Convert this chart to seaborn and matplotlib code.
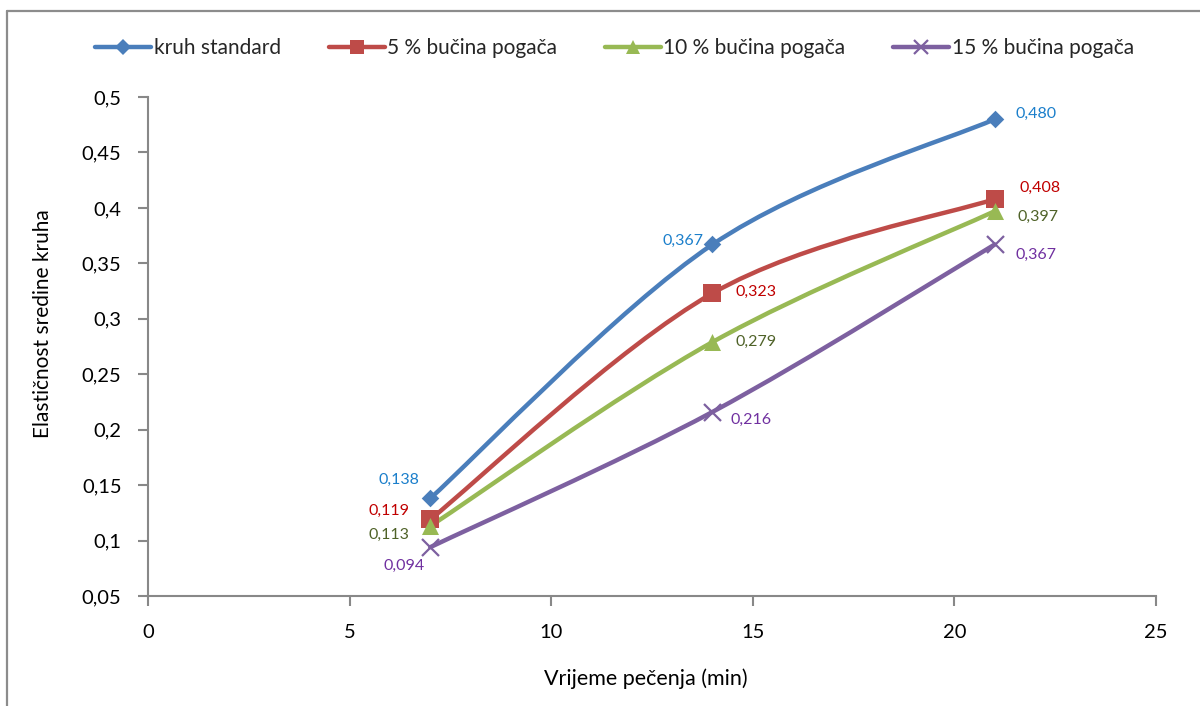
import numpy as np
import pandas as pd
import matplotlib
matplotlib.use('Agg')
import matplotlib.pyplot as plt
import seaborn as sns
from matplotlib.path import Path
from matplotlib.patches import PathPatch
from matplotlib.lines import Line2D
from matplotlib.ticker import FuncFormatter

# Data
time_min = [7, 14, 21]
kruh_standard = [0.138, 0.367, 0.480]
bucina_5 = [0.119, 0.323, 0.408]
bucina_10 = [0.113, 0.279, 0.397]
bucina_15 = [0.094, 0.216, 0.367]
series_names = ['kruh standard', '5 % bučina pogača', '10 % bučina pogača', '15 % bučina pogača']

series = [kruh_standard, bucina_5, bucina_10, bucina_15]
line_colors = ['#4A7EBB', '#BE4B48', '#98B954', '#7D60A0']
label_colors = ['#1B7FCB', '#C00000', '#4F6228', '#7030A0']
markers = ['D', 's', '^', 'x']
marker_sizes = [80, 150, 150, 150]

# label offsets in pixels (dx, dy) per series per point
label_offsets = [
    [(-31, 19), (-29, 4), (41, 5)],
    [(-41, 9), (44, 1), (45, 11)],
    [(-41, -9), (44, 0), (43, -6)],
    [(-26, -19), (39, -8), (41, -10)],
]

sns.set_theme(style='white')
plt.rcParams['font.family'] = ['Lato', 'DejaVu Sans']

df = pd.DataFrame({'time': time_min * 4,
                   'value': sum(series, []),
                   'serie': np.repeat(series_names, len(time_min))})

fig = plt.figure(figsize=(12, 7.06), dpi=100)
ax = fig.add_axes([148 / 1200, 1 - 596 / 706, (1156 - 148) / 1200, (596 - 97) / 706])


def smooth_path(xs, ys):
    # Excel-like smoothed line: cubic Bezier through the points
    pts = np.column_stack([xs, ys]).astype(float)
    n = len(pts)
    verts = [pts[0]]
    codes = [Path.MOVETO]
    for i in range(n - 1):
        p_prev = pts[i - 1] if i > 0 else pts[i]
        p_next2 = pts[i + 2] if i + 2 < n else pts[i + 1]
        c1 = pts[i] + (pts[i + 1] - p_prev) / 6
        c2 = pts[i + 1] - (p_next2 - pts[i]) / 6
        verts += [c1, c2, pts[i + 1]]
        codes += [Path.CURVE4] * 3
    return Path(verts, codes)


for name, color in zip(series_names, line_colors):
    sub = df[df['serie'] == name]
    ax.add_patch(PathPatch(smooth_path(sub['time'], sub['value']), facecolor='none',
                           edgecolor=color, lw=3.2, capstyle='round', zorder=2))

for name, color, mk, ms in zip(series_names, line_colors, markers, marker_sizes):
    sub = df[df['serie'] == name]
    if mk == 'x':
        sns.scatterplot(data=sub, x='time', y='value', marker='x', s=ms, color=color,
                        linewidth=1.6, ax=ax, zorder=3, legend=False)
    else:
        sns.scatterplot(data=sub, x='time', y='value', marker=mk, s=ms, color=color,
                        edgecolor=color, linewidth=0, ax=ax, zorder=3, legend=False)

for vals, lc, offs in zip(series, label_colors, label_offsets):
    for x, y, (dx, dy) in zip(time_min, vals, offs):
        ax.annotate(f'{y:.3f}'.replace('.', ','), (x, y), xytext=(dx, dy),
                    textcoords='offset pixels', ha='center', va='center',
                    fontsize=11.5, color=lc)

ax.set_xlim(0, 25)
ax.set_ylim(0.05, 0.5)
ax.set_xticks([0, 5, 10, 15, 20, 25])
ax.set_yticks(np.arange(0.05, 0.501, 0.05))
ax.yaxis.set_major_formatter(FuncFormatter(lambda v, p: f'{v:.2f}'.rstrip('0').replace('.', ',')))
for side in ['top', 'right']:
    ax.spines[side].set_visible(False)
for side in ['left', 'bottom']:
    ax.spines[side].set_color('#888888')
    ax.spines[side].set_linewidth(1.5)
ax.tick_params(axis='both', which='major', direction='out', length=7, width=1.5,
               color='#888888', labelsize=14.5, labelcolor='black', bottom=True, left=True)
ax.tick_params(axis='y', pad=12)
ax.tick_params(axis='x', pad=13)
ax.set_xlabel('Vrijeme pečenja (min)', fontsize=15.5, color='black')
ax.set_ylabel('Elastičnost sredine kruha', fontsize=15, color='black')
ax.xaxis.set_label_coords(0.494, -0.145)
ax.yaxis.set_label_coords(-0.094, 0.546)

handles = [Line2D([], [], color=c, lw=3.2, marker=m, markersize=10 if m != 'D' else 8,
                  markeredgewidth=1.6 if m == 'x' else 0)
           for c, m in zip(line_colors, markers)]
fig.legend(handles, series_names, loc='center', bbox_to_anchor=(0.512, 0.932), ncol=4,
           frameon=False, fontsize=15, handlelength=2.7, handletextpad=0.1,
           columnspacing=2.3)

# chart area frame (left and top edges visible)
fig.add_artist(Line2D([7 / 1200, 7 / 1200], [0, 1 - 11 / 706], transform=fig.transFigure,
                      color='#8C8C8C', lw=1.6))
fig.add_artist(Line2D([7 / 1200, 1], [1 - 11 / 706, 1 - 11 / 706], transform=fig.transFigure,
                      color='#8C8C8C', lw=1.6))

fig.savefig('out.png', dpi=100)
